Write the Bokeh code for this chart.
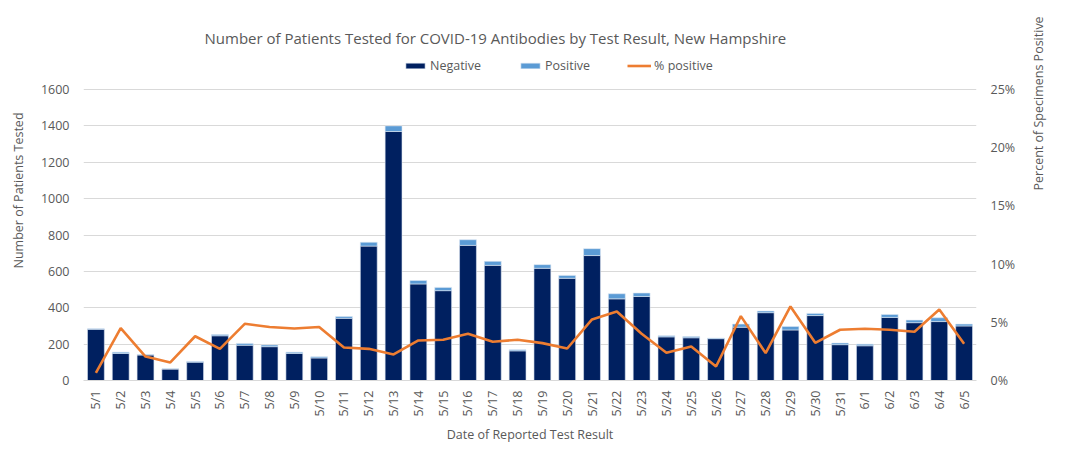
import math
from bokeh.plotting import figure
from bokeh.models import (FactorRange, Range1d, LinearAxis, FixedTicker, NumeralTickFormatter,
                          Legend, LegendItem, Label)
from bokeh.embed import file_html
from bokeh.resources import INLINE

dates = ["5/1", "5/2", "5/3", "5/4", "5/5", "5/6", "5/7", "5/8", "5/9", "5/10",
         "5/11", "5/12", "5/13", "5/14", "5/15", "5/16", "5/17", "5/18", "5/19", "5/20",
         "5/21", "5/22", "5/23", "5/24", "5/25", "5/26", "5/27", "5/28", "5/29", "5/30",
         "5/31", "6/1", "6/2", "6/3", "6/4", "6/5"]
negative = [282, 149, 140, 63, 101, 246, 194, 186, 149, 124,
            342, 739, 1369, 531, 494, 743, 633, 163, 617, 562,
            687, 449, 462, 240, 235, 230, 293, 373, 278, 357,
            197, 191, 347, 318, 324, 300]
positive = [2, 7, 3, 1, 4, 7, 10, 9, 7, 6,
            10, 21, 31, 19, 18, 31, 22, 6, 20, 16,
            38, 28, 19, 6, 7, 3, 17, 9, 19, 12,
            9, 9, 16, 14, 21, 10]
pct_positive = [0.0066, 0.045, 0.0206, 0.0155, 0.038, 0.0272, 0.0487, 0.0459, 0.0447, 0.0459,
                0.0284, 0.0272, 0.0224, 0.0344, 0.035, 0.0401, 0.0333, 0.035, 0.0321, 0.0275,
                0.0525, 0.0593, 0.0401, 0.0238, 0.0292, 0.012, 0.0553, 0.0235, 0.0636, 0.0324,
                0.0436, 0.0444, 0.0436, 0.0419, 0.061, 0.0315]
left_ticks = [0, 200, 400, 600, 800, 1000, 1200, 1400, 1600]
right_ticks = [0, 0.05, 0.10, 0.15, 0.20, 0.25]
title_text = "Number of Patients Tested for COVID-19 Antibodies by Test Result, New Hampshire"
x_title = "Date of Reported Test Result"
y_title = "Number of Patients Tested"
y2_title = "Percent of Specimens Positive"

FONT = "Open Sans"
GREY = "#595959"

# the frame spans the canvas from its top to the x axis (380 px);
# the value area (0..1600) occupies its lower 291 px
FRAME_H, DATA_H = 380.0, 291.0
FRAME_W = 893.0
N = len(dates)
ytop = left_ticks[-1] * FRAME_H / DATA_H
rtop = right_ticks[-1] * FRAME_H / DATA_H
px_x = N / FRAME_W          # categorical units per pixel
def ypx(canvas_y):          # canvas pixel row -> left-axis data value
    return ytop * (FRAME_H - canvas_y) / FRAME_H

p = figure(x_range=FactorRange(*dates), y_range=Range1d(0, ytop), title=None,
           width=1066, height=449, output_backend="svg", toolbar_location=None,
           min_border_left=83, min_border_right=90, min_border_top=0, min_border_bottom=69)
p.extra_y_ranges = {"pct": Range1d(0, rtop)}

src = dict(dates=dates, Negative=negative, Positive=positive)
bars = p.vbar_stack(["Negative", "Positive"], x="dates", width=0.68, source=src,
                    fill_color=["#002060", "#5b9bd5"], line_color="#dbe5f1", line_width=0.6)
ln = p.line(x=dates, y=pct_positive, y_range_name="pct", line_color="#ed7d31", line_width=2.6)

p.outline_line_color = None
p.xgrid.grid_line_color = None
p.ygrid.grid_line_color = "#d9d9d9"
p.ygrid.grid_line_width = 1.2
p.ygrid.ticker = FixedTicker(ticks=left_ticks)

ya = p.yaxis[0]
ya.ticker = FixedTicker(ticks=left_ticks)
ya.axis_line_color = None
ya.major_tick_line_color = None
ya.minor_tick_line_color = None
ya.major_label_standoff = 8
ya.major_label_text_font = FONT
ya.major_label_text_font_size = "12.5px"
ya.major_label_text_color = GREY
ya.axis_label = y_title
ya.axis_label_text_font = FONT
ya.axis_label_text_font_size = "12.5px"
ya.axis_label_text_font_style = "normal"
ya.axis_label_text_color = GREY
ya.axis_label_standoff = 11

ra = LinearAxis(y_range_name="pct", ticker=FixedTicker(ticks=right_ticks),
                formatter=NumeralTickFormatter(format="0%"))
ra.axis_line_color = None
ra.major_tick_line_color = None
ra.minor_tick_line_color = None
ra.major_label_standoff = 8
ra.major_label_text_font = FONT
ra.major_label_text_font_size = "12.5px"
ra.major_label_text_color = GREY
ra.axis_label = y2_title
ra.axis_label_text_font = FONT
ra.axis_label_text_font_size = "12.5px"
ra.axis_label_text_font_style = "normal"
ra.axis_label_text_color = GREY
ra.axis_label_text_align = "center"
ra.axis_label_standoff = 20
try:
    ra.axis_label_orientation = math.pi / 2   # read bottom-to-top like the left title
except (AttributeError, ValueError):
    pass
p.add_layout(ra, "right")

xa = p.xaxis[0]
xa.axis_line_color = "#d9d9d9"
xa.axis_line_width = 1.2
xa.major_tick_line_color = None
xa.minor_tick_line_color = None
xa.major_label_orientation = math.pi / 2
xa.major_label_standoff = 4
xa.major_label_text_font = FONT
xa.major_label_text_font_size = "12.5px"
xa.major_label_text_color = GREY
xa.axis_label = x_title
xa.axis_label_text_font = FONT
xa.axis_label_text_font_size = "12.5px"
xa.axis_label_text_font_style = "normal"
xa.axis_label_text_color = GREY
xa.axis_label_standoff = 6

legend = Legend(items=[LegendItem(label="Negative", renderers=[bars[0]]),
                       LegendItem(label="Positive", renderers=[bars[1]]),
                       LegendItem(label="% positive", renderers=[ln])],
                orientation="horizontal", location=(320, 306),
                label_text_font=FONT, label_text_font_size="12.5px", label_text_color=GREY,
                glyph_width=24, glyph_height=7, label_standoff=3, spacing=37,
                padding=0, margin=0, border_line_color=None, background_fill_alpha=0)
p.add_layout(legend, "center")

p.add_layout(Label(x=121 * px_x, y=ypx(37), text=title_text, text_align="left",
                   text_baseline="middle", text_font=FONT, text_color=GREY,
                   text_font_size="15px"))

open("out.html", "w").write(file_html(p, INLINE))
